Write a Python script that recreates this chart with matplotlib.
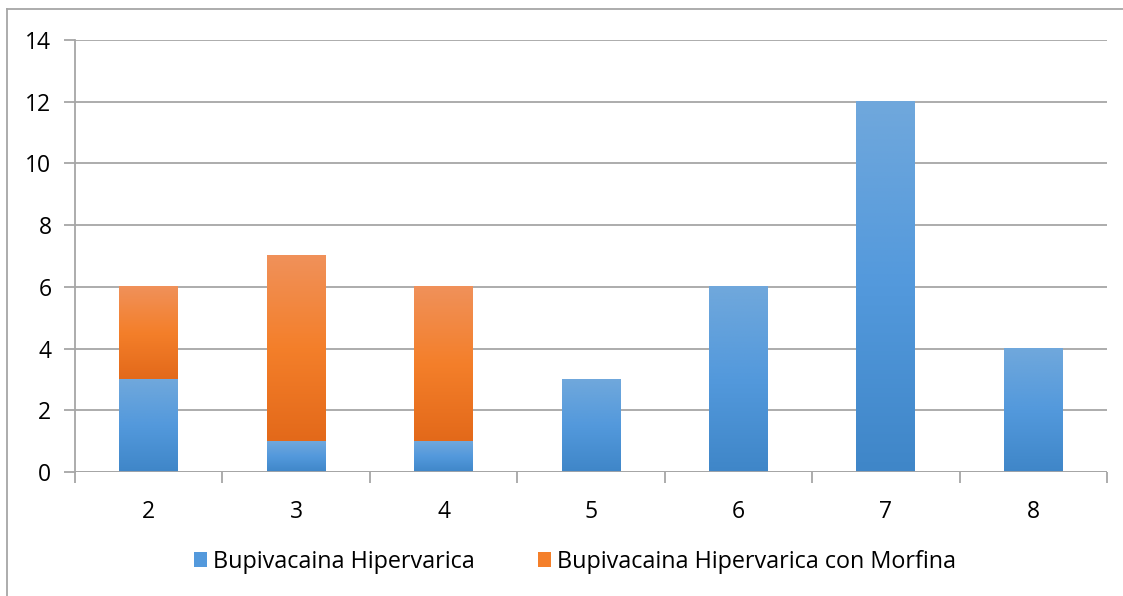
import numpy as np
import matplotlib.pyplot as plt
from matplotlib.colors import LinearSegmentedColormap
from matplotlib.patches import Patch
from matplotlib.lines import Line2D

plt.rcParams['font.family'] = ['Open Sans', 'DejaVu Sans']

categories = ['2', '3', '4', '5', '6', '7', '8']
bupi = [3, 1, 1, 3, 6, 12, 4]
bupi_morf = [3, 6, 5, 0, 0, 0, 0]
series_names = ['Bupivacaina Hipervarica', 'Bupivacaina Hipervarica con Morfina']

blue_cmap = LinearSegmentedColormap.from_list('b', ['#3f86c8', '#5399dc', '#70a8dc'])
orange_cmap = LinearSegmentedColormap.from_list('o', ['#e3691a', '#f47f2a', '#f0915a'])
grad = np.linspace(0, 1, 256).reshape(-1, 1)

fig = plt.figure(figsize=(11.23, 5.96), dpi=100)
ax = fig.add_axes([75 / 1123, 1 - 472 / 596, 1032 / 1123, 432 / 596])

def gradient_bar(x, bottom, height, cmap, width=0.4):
    if height <= 0:
        return
    ax.imshow(grad, cmap=cmap, origin='lower', aspect='auto',
              extent=(x - width / 2, x + width / 2, bottom, bottom + height),
              interpolation='bilinear', zorder=3)

x = np.arange(len(categories))
for i in x:
    gradient_bar(i, 0, bupi[i], blue_cmap)
    gradient_bar(i, bupi[i], bupi_morf[i], orange_cmap)

ax.set_xlim(-0.5, len(categories) - 0.5)
ax.set_ylim(0, 14)
ax.set_yticks(range(0, 15, 2))
ax.yaxis.grid(True, color='#a6a6a6', linewidth=1.3)
ax.set_axisbelow(True)
for s in ['top', 'right', 'bottom']:
    ax.spines[s].set_visible(False)
ax.spines['left'].set_color('#a6a6a6')
ax.spines['left'].set_linewidth(1.3)
ax.axhline(0, color='#a6a6a6', linewidth=1.3, zorder=4)

ax.set_xticks(x)
ax.set_xticklabels(categories)
ax.set_xticks(np.arange(-0.5, len(categories)), minor=True)
ax.tick_params(axis='x', which='major', length=0, pad=20, labelsize=16.5)
ax.tick_params(axis='x', which='minor', length=8, width=1.3, color='#a6a6a6')
ax.tick_params(axis='y', length=8, width=1.3, color='#a6a6a6', pad=9, labelsize=16.5)

handles = [Patch(facecolor='#5399dc'), Patch(facecolor='#f47f2a')]
fig.legend(handles, series_names, loc='center', bbox_to_anchor=(0.512, 1 - 562 / 596),
           ncol=2, frameon=False, fontsize=16.8, handlelength=0.55, handleheight=0.6,
           handletextpad=0.25, columnspacing=2.7)

# chart border
fig.add_artist(Line2D([7 / 1123, 1], [1 - 9 / 596] * 2, color='#a6a6a6', linewidth=1.3))
fig.add_artist(Line2D([7 / 1123] * 2, [0, 1 - 9 / 596], color='#a6a6a6', linewidth=1.3))

fig.savefig('out.png', dpi=100)
